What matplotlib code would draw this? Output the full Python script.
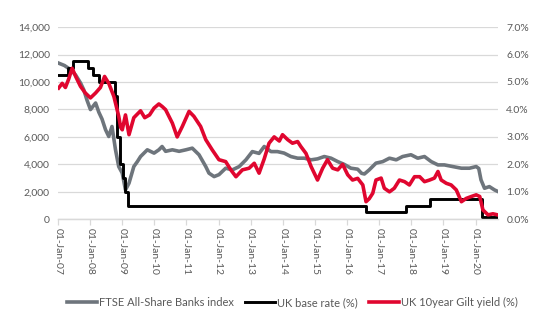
import matplotlib
matplotlib.use("Agg")
import matplotlib.pyplot as plt
from matplotlib.ticker import FuncFormatter, MultipleLocator

# ---- data (decimal years) ----
bank_years = [2007.00, 2007.20, 2007.39, 2007.55, 2007.70, 2007.80, 2007.90, 2008.01, 2008.17, 2008.27,
              2008.37, 2008.48, 2008.58, 2008.68, 2008.79, 2008.89, 2009.00, 2009.10, 2009.21, 2009.36,
              2009.47, 2009.57, 2009.78, 2009.99, 2010.14, 2010.24, 2010.35, 2010.56, 2010.77, 2010.98,
              2011.18, 2011.39, 2011.60, 2011.70, 2011.86, 2012.01, 2012.22, 2012.43, 2012.64, 2012.85,
              2013.05, 2013.26, 2013.42, 2013.63, 2013.83, 2014.04, 2014.25, 2014.46, 2014.67, 2014.88,
              2015.08, 2015.29, 2015.50, 2015.71, 2015.91, 2016.12, 2016.33, 2016.45, 2016.54, 2016.69,
              2016.90, 2017.11, 2017.32, 2017.53, 2017.73, 2017.99, 2018.20, 2018.41, 2018.62, 2018.83,
              2019.03, 2019.29, 2019.56, 2019.81, 2020.02, 2020.10, 2020.17, 2020.28, 2020.43, 2020.59,
              2020.70]
bank_index = [11390, 11200, 10900, 10500, 9930, 9440, 8690, 7990, 8470, 7800,
              7300, 6520, 6030, 6760, 5060, 3840, 3360, 2140, 2630, 3840,
              4200, 4570, 5060, 4820, 5060, 5300, 4950, 5060, 4950, 5060,
              5180, 4700, 3840, 3360, 3110, 3250, 3720, 3600, 3840, 4330,
              4930, 4800, 5300, 4930, 4930, 4820, 4570, 4450, 4450, 4330,
              4400, 4570, 4450, 4200, 4000, 3720, 3650, 3350, 3300, 3600,
              4090, 4200, 4450, 4330, 4570, 4700, 4450, 4570, 4200, 3960,
              3960, 3840, 3720, 3720, 3840, 3700, 2870, 2260, 2380, 2140,
              2020]

rate_years = [2007.00, 2007.30, 2007.46, 2007.93, 2008.10, 2008.27, 2008.77, 2008.85, 2008.93,
              2009.02, 2009.10, 2009.17, 2016.59, 2017.84, 2018.59, 2020.19, 2020.21, 2020.70]
base_rate = [5.25, 5.5, 5.75, 5.5, 5.25, 5.0, 4.5, 3.0, 2.0,
             1.5, 1.0, 0.5, 0.25, 0.5, 0.75, 0.25, 0.1, 0.1]

gilt_years = [2007.02, 2007.13, 2007.23, 2007.33, 2007.44, 2007.55, 2007.70, 2007.85, 2008.01, 2008.17,
              2008.32, 2008.45, 2008.58, 2008.74, 2008.89, 2008.95, 2009.00, 2009.10, 2009.21, 2009.36,
              2009.57, 2009.70, 2009.85, 2009.99, 2010.14, 2010.25, 2010.35, 2010.56, 2010.71, 2010.87,
              2011.08, 2011.23, 2011.44, 2011.60, 2011.80, 2012.01, 2012.22, 2012.38, 2012.54, 2012.74,
              2012.95, 2013.11, 2013.26, 2013.42, 2013.57, 2013.73, 2013.89, 2013.99, 2014.15, 2014.30,
              2014.46, 2014.56, 2014.72, 2014.88, 2015.08, 2015.24, 2015.39, 2015.55, 2015.71, 2015.86,
              2016.02, 2016.17, 2016.33, 2016.49, 2016.59, 2016.69, 2016.80, 2016.90, 2017.06, 2017.16,
              2017.32, 2017.47, 2017.63, 2017.79, 2017.94, 2018.10, 2018.26, 2018.41, 2018.57, 2018.72,
              2018.83, 2018.93, 2019.09, 2019.24, 2019.40, 2019.56, 2019.71, 2019.87, 2020.02, 2020.13,
              2020.23, 2020.39, 2020.54, 2020.69]
gilt_yield = [4.78, 4.95, 4.8, 5.1, 5.5, 5.2, 4.84, 4.6, 4.42, 4.6,
              4.8, 5.2, 4.95, 4.47, 3.75, 3.35, 3.26, 3.8, 3.08, 3.7,
              3.95, 3.7, 3.8, 4.05, 4.2, 4.1, 3.99, 3.5, 3.0, 3.38,
              3.93, 3.75, 3.38, 2.9, 2.53, 2.17, 2.1, 1.8, 1.55, 1.8,
              1.86, 2.04, 1.68, 2.2, 2.77, 3.0, 2.85, 3.08, 2.9, 2.77,
              2.83, 2.65, 2.4, 1.92, 1.43, 1.86, 2.17, 1.86, 1.8, 2.0,
              1.62, 1.43, 1.49, 1.25, 0.64, 0.75, 0.95, 1.43, 1.5, 1.13,
              1.0, 1.13, 1.43, 1.37, 1.25, 1.55, 1.55, 1.37, 1.43, 1.5,
              1.74, 1.43, 1.31, 1.25, 1.07, 0.64, 0.76, 0.83, 0.89, 0.83,
              0.34, 0.16, 0.2, 0.16]

tick_years = list(range(2007, 2021))
tick_labels = ["01-Jan-%02d" % (y % 100) for y in tick_years]

series_names = ["FTSE All-Share Banks index", "UK base rate (%)", "UK 10year Gilt yield (%)"]
colors = ["#6E757C", "#000000", "#E0062F"]

plt.rcParams["font.family"] = ["Lato", "DejaVu Sans"]
txt = "#595959"
fs = 7.5

fig = plt.figure(figsize=(5.5, 3.3), dpi=100)
ax = fig.add_axes([0.1055, 0.3355, 0.80, 0.5825])
ax2 = ax.twinx()

ax.set_ylim(0, 14000)
ax2.set_ylim(0, 7)
ax.set_xlim(2007.0, 2020.70)

ax.yaxis.set_major_locator(MultipleLocator(2000))
ax2.yaxis.set_major_locator(MultipleLocator(1))
ax.yaxis.set_major_formatter(FuncFormatter(lambda v, p: f"{v:,.0f}"))
ax2.yaxis.set_major_formatter(FuncFormatter(lambda v, p: f"{v:.1f}%"))

ax.grid(axis="y", color="#D9D9D9", lw=0.9)
ax.set_axisbelow(True)
for a in (ax, ax2):
    for s in ("top", "left", "right"):
        a.spines[s].set_visible(False)
    a.spines["bottom"].set_color("#D9D9D9")
    a.spines["bottom"].set_linewidth(0.9)

ax.set_xticks(tick_years)
ax.set_xticklabels(tick_labels, rotation=270, fontsize=fs, color=txt)
ax.tick_params(axis="x", length=4, width=0.9, color="#D9D9D9", pad=2)
ax.tick_params(axis="y", length=0, labelsize=fs, labelcolor=txt, pad=6)
ax2.tick_params(axis="y", length=0, labelsize=fs, labelcolor=txt, pad=6)

l1, = ax.plot(bank_years, bank_index, color=colors[0], lw=2.6, solid_joinstyle="round")
l2, = ax2.plot(rate_years, base_rate, color=colors[1], lw=2.1, drawstyle="steps-post")
l3, = ax2.plot(gilt_years, gilt_yield, color=colors[2], lw=2.6, solid_joinstyle="round")

fig.legend([l1, l2, l3], series_names, loc="center", bbox_to_anchor=(0.532, 0.083),
           ncol=3, frameon=False, fontsize=fs + 0.5, labelcolor=txt,
           handlelength=2.7, handletextpad=0.2, columnspacing=1.0)

fig.savefig("out.png", dpi=100)
